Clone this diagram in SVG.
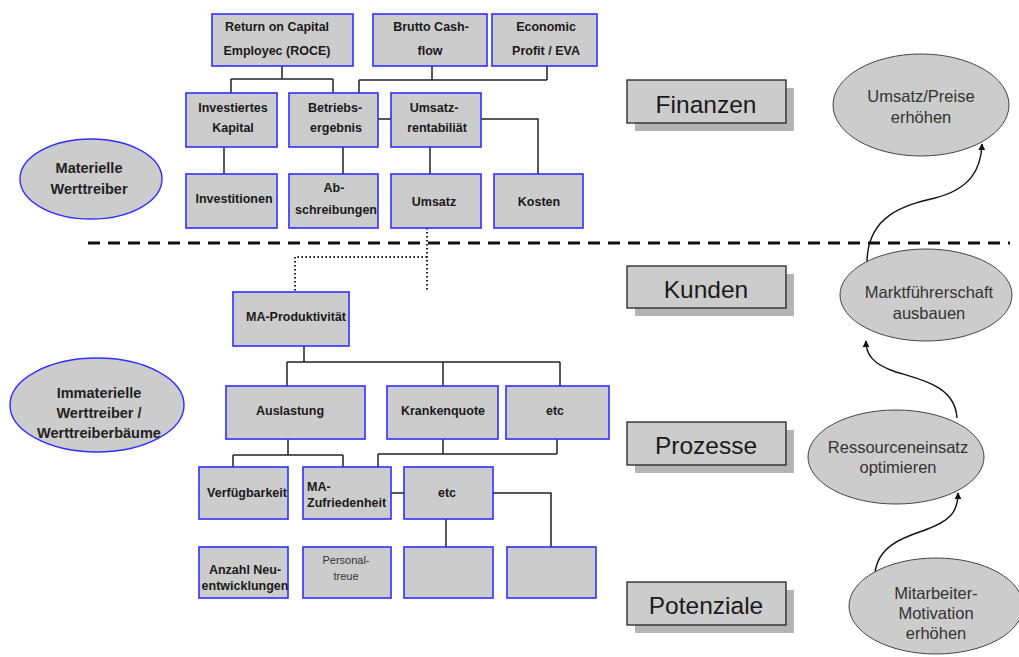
<svg xmlns="http://www.w3.org/2000/svg" width="1019" height="657" viewBox="0 0 1019 657">
  <style>
    .box { fill: #cccccc; stroke: #2f2fff; stroke-width: 1.6; }
    .lbl { font-family: "Liberation Sans", Arial, sans-serif; font-size: 12.5px; font-weight: bold; fill: #1a1a1a; text-anchor: middle; }
    .lbl-r { font-family: "Liberation Sans", Arial, sans-serif; font-size: 11px; fill: #333; text-anchor: middle; }
    .cat { fill: #cccccc; stroke: #222; stroke-width: 1.3; }
    .shadow { fill: #b4b4b4; }
    .cat-t { font-family: "Liberation Sans", Arial, sans-serif; font-size: 24.5px; fill: #1a1a1a; text-anchor: middle; }
    .goal { fill: #cccccc; stroke: #444; stroke-width: 1; }
    .goal-t { font-family: "Liberation Sans", Arial, sans-serif; font-size: 16.5px; fill: #333; text-anchor: middle; }
    .group { fill: #cccccc; stroke: #2f2fff; stroke-width: 1.4; }
    .group-t { font-family: "Liberation Sans", Arial, sans-serif; font-size: 14.5px; font-weight: bold; fill: #222; text-anchor: middle; }
    .wire { fill: none; stroke: #222; stroke-width: 1.5; }
    .dot { fill: none; stroke: #222; stroke-width: 2; stroke-dasharray: 1.6 2.4; }
    .split { fill: none; stroke: #111; stroke-width: 3; stroke-dasharray: 12 8; }
    .flow { fill: none; stroke: #111; stroke-width: 1.4; marker-end: url(#tip); }
  </style>
  <defs>
    <marker id="tip" viewBox="0 0 10 10" refX="9" refY="5" markerWidth="7" markerHeight="7" orient="auto" markerUnits="userSpaceOnUse">
      <path d="M0,0 L10,5 L0,10 z" fill="#111"/>
    </marker>
  </defs>

  <rect width="1019" height="657" fill="#ffffff"/>

  <!-- separator between tangible and intangible drivers -->
  <line class="split" x1="88" y1="243" x2="1010" y2="243"/>

  <!-- connectors -->
  <g id="connectors">
    <!-- financial tree -->
    <path class="wire" d="M282,66 V79 M231,79 H333 M231,79 V93 M333,79 V93"/>
    <path class="wire" d="M432,66 V80 M547,66 V80 M359,80 H547 M359,80 V93"/>
    <path class="wire" d="M378,119 H391 M481,119 H538 V174"/>
    <path class="wire" d="M224,147 V174 M343,147 V174 M430,147 V174"/>
    <!-- link across the separator -->
    <path class="dot" d="M427,228 V290 M427,257 H295 V291"/>
    <!-- intangible tree -->
    <path class="wire" d="M304,346 V362 M287,362 H560 M287,362 V386 M443,362 V386 M560,362 V386"/>
    <path class="wire" d="M288,439 V455 M233,455 H343 M233,455 V467 M343,455 V467"/>
    <path class="wire" d="M443,439 V454 M557,439 V454 M378,454 H557 M378,454 V467"/>
    <path class="wire" d="M391,493 H404 M493,493 H551 V547 M446,519 V547"/>
    <!-- goal chain -->
    <path class="flow" d="M875,573 C878,545 905,537 925,530 C950,521 958,512 958,493"/>
    <path class="flow" d="M957,418 C955,386 922,380 896,372 C872,364 866,354 866,341"/>
    <path class="flow" d="M867,263 C867,215 905,205 935,198 C970,189 981,170 982,144"/>
  </g>

  <!-- driver groups -->
  <g id="materielle">
    <ellipse class="group" cx="91" cy="179" rx="71" ry="40"/>
    <text class="group-t" x="89" y="173">Materielle</text>
    <text class="group-t" x="89" y="194">Werttreiber</text>
  </g>
  <g id="immaterielle">
    <ellipse class="group" cx="97" cy="405" rx="87" ry="47"/>
    <text class="group-t" x="99" y="398">Immaterielle</text>
    <text class="group-t" x="99" y="418">Werttreiber /</text>
    <text class="group-t" x="99" y="438">Werttreiberbäume</text>
  </g>

  <!-- financial drivers -->
  <g id="roce">
    <rect class="box" x="212" y="14" width="141" height="52"/>
    <text class="lbl" x="277" y="31">Return on Capital</text>
    <text class="lbl" x="277" y="55">Employec (ROCE)</text>
  </g>
  <g id="cashflow">
    <rect class="box" x="373" y="14" width="114" height="52"/>
    <text class="lbl" x="431" y="31">Brutto Cash-</text>
    <text class="lbl" x="430" y="55">flow</text>
  </g>
  <g id="eva">
    <rect class="box" x="492" y="14" width="105" height="52"/>
    <text class="lbl" x="546" y="31">Economic</text>
    <text class="lbl" x="546" y="55">Profit / EVA</text>
  </g>
  <g id="kapital">
    <rect class="box" x="186" y="93" width="91" height="54"/>
    <text class="lbl" x="233" y="112">Investiertes</text>
    <text class="lbl" x="233" y="132">Kapital</text>
  </g>
  <g id="betriebsergebnis">
    <rect class="box" x="289" y="93" width="89" height="54"/>
    <text class="lbl" x="335" y="112">Betriebs-</text>
    <text class="lbl" x="336" y="132">ergebnis</text>
  </g>
  <g id="umsatzrentabilitaet">
    <rect class="box" x="391" y="93" width="90" height="54"/>
    <text class="lbl" x="434" y="112">Umsatz-</text>
    <text class="lbl" x="437" y="132">rentabiliät</text>
  </g>
  <g id="investitionen">
    <rect class="box" x="186" y="174" width="91" height="54"/>
    <text class="lbl" x="234" y="203">Investitionen</text>
  </g>
  <g id="abschreibungen">
    <rect class="box" x="289" y="174" width="89" height="54"/>
    <text class="lbl" x="334" y="192">Ab-</text>
    <text class="lbl" x="336" y="214">schreibungen</text>
  </g>
  <g id="umsatz">
    <rect class="box" x="391" y="174" width="90" height="54"/>
    <text class="lbl" x="434" y="206">Umsatz</text>
  </g>
  <g id="kosten">
    <rect class="box" x="494" y="174" width="89" height="54"/>
    <text class="lbl" x="539" y="206">Kosten</text>
  </g>

  <!-- intangible drivers -->
  <g id="produktivitaet">
    <rect class="box" x="233" y="292" width="116" height="54"/>
    <text class="lbl" x="296" y="321">MA-Produktivität</text>
  </g>
  <g id="auslastung">
    <rect class="box" x="226" y="386" width="139" height="53"/>
    <text class="lbl" x="290" y="415">Auslastung</text>
  </g>
  <g id="krankenquote">
    <rect class="box" x="387" y="386" width="111" height="53"/>
    <text class="lbl" x="443" y="415">Krankenquote</text>
  </g>
  <g id="etc1">
    <rect class="box" x="506" y="386" width="103" height="53"/>
    <text class="lbl" x="555" y="415">etc</text>
  </g>
  <g id="verfuegbarkeit">
    <rect class="box" x="199" y="467" width="89" height="52"/>
    <text class="lbl" x="247" y="497">Verfügbarkeit</text>
  </g>
  <g id="zufriedenheit">
    <rect class="box" x="303" y="467" width="88" height="52"/>
    <text class="lbl" x="307" y="491" style="text-anchor:start">MA-</text>
    <text class="lbl" x="307" y="507" style="text-anchor:start">Zufriedenheit</text>
  </g>
  <g id="etc2">
    <rect class="box" x="404" y="467" width="89" height="52"/>
    <text class="lbl" x="447" y="497">etc</text>
  </g>
  <g id="neuentwicklungen">
    <rect class="box" x="199" y="547" width="89" height="51"/>
    <text class="lbl" x="245" y="574">Anzahl Neu-</text>
    <text class="lbl" x="245" y="590">entwicklungen</text>
  </g>
  <g id="personaltreue">
    <rect class="box" x="303" y="547" width="88" height="51"/>
    <text class="lbl-r" x="346" y="564">Personal-</text>
    <text class="lbl-r" x="346" y="580">treue</text>
  </g>
  <g id="leer1">
    <rect class="box" x="404" y="547" width="89" height="51"/>
  </g>
  <g id="leer2">
    <rect class="box" x="507" y="547" width="89" height="51"/>
  </g>

  <!-- perspectives -->
  <g id="finanzen">
    <rect class="shadow" x="635" y="88" width="159" height="43"/>
    <rect class="cat" x="627" y="80" width="159" height="43"/>
    <text class="cat-t" x="706" y="113">Finanzen</text>
  </g>
  <g id="kunden">
    <rect class="shadow" x="635" y="274" width="159" height="42"/>
    <rect class="cat" x="627" y="266" width="159" height="42"/>
    <text class="cat-t" x="706" y="298">Kunden</text>
  </g>
  <g id="prozesse">
    <rect class="shadow" x="635" y="430" width="159" height="43"/>
    <rect class="cat" x="627" y="422" width="159" height="43"/>
    <text class="cat-t" x="706" y="454">Prozesse</text>
  </g>
  <g id="potenziale">
    <rect class="shadow" x="635" y="590" width="159" height="43"/>
    <rect class="cat" x="627" y="582" width="159" height="43"/>
    <text class="cat-t" x="706" y="614">Potenziale</text>
  </g>

  <!-- strategic goals -->
  <g id="umsatz-preise">
    <ellipse class="goal" cx="921" cy="105" rx="88" ry="51"/>
    <text class="goal-t" x="921" y="102">Umsatz/Preise</text>
    <text class="goal-t" x="921" y="123">erhöhen</text>
  </g>
  <g id="marktfuehrerschaft">
    <ellipse class="goal" cx="926" cy="295" rx="86" ry="46"/>
    <text class="goal-t" x="929" y="298">Marktführerschaft</text>
    <text class="goal-t" x="929" y="319">ausbauen</text>
  </g>
  <g id="ressourceneinsatz">
    <ellipse class="goal" cx="896" cy="457" rx="88" ry="47"/>
    <text class="goal-t" x="898" y="453">Ressourceneinsatz</text>
    <text class="goal-t" x="898" y="473">optimieren</text>
  </g>
  <g id="motivation">
    <ellipse class="goal" cx="936" cy="606" rx="87" ry="48"/>
    <text class="goal-t" x="936" y="599">Mitarbeiter-</text>
    <text class="goal-t" x="936" y="619">Motivation</text>
    <text class="goal-t" x="936" y="639">erhöhen</text>
  </g>
</svg>
